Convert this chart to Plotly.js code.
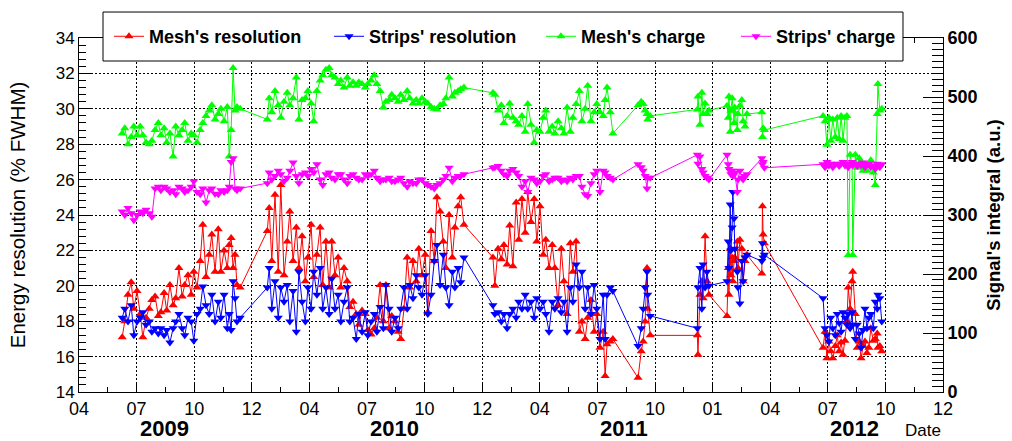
<!DOCTYPE html>
<html>
<head>
<meta charset="utf-8">
<script src="https://cdn.plot.ly/plotly-3.0.1.min.js"></script>
<style>
html,body{margin:0;padding:0;background:#ffffff;}
#chart{width:1012px;height:441px;}
</style>
</head>
<body>
<div id="chart"></div>
<script>
// ---- axis definition ----
const START_DATE = '2009-04-01';
const END_DATE = '2012-12-01';
const xTickLabels = ['04','07','10','12','04','07','10','12','04','07','10','01','04','07','10','12'];
const yearLabels = ['2009','2010','2011','2012'];

// ---- data: days since START_DATE ----
const dayOffset = [
  67,71,76,81,85,90,95,99,104,109,113,118,123,127,132,136,141,146,150,155,160,164,169,174,178,183,188,192,197,202,206,211,216,220,225,230,233,236,239,242,245,250,
  292,295,299,304,309,313,318,323,327,332,337,341,346,351,355,360,364,369,374,378,383,388,392,397,402,406,411,416,420,425,430,434,439,444,448,453,458,462,467,472,476,481,485,490,495,499,504,509,513,518,523,527,532,537,541,546,551,555,560,565,569,574,579,583,588,592,597,
  642,645,650,655,659,664,668,673,678,682,687,692,696,701,706,710,715,720,724,729,734,738,743,748,752,757,762,766,771,776,780,785,789,794,799,803,808,813,816,819,824,828,
  867,872,875,878,881,882,886,
  959,960,963,966,968,971,974,977,
  1005,1007,1008,1010,1011,1013,1014,1016,1017,1021,1022,1025,1028,1030,1033,1036,
  1059,1060,1061,1063,
  1154,1157,1160,1163,1166,1169,1173,1176,1179,1182,1185,1188,1191,1193,1196,1199,1200,1204,1207,1210,1213,1216,1219,1222,1225,1228,1232,1235,1238,1239,1242,1245
];

// Energy resolution (% FWHM), left axis
const meshResolution = [
  17.1,18.0,19.5,20.2,18.7,19.7,18.4,17.1,18.2,18.7,19.2,19.4,18.3,18.5,19.6,18.6,20.05,18.9,19.3,21.0,19.4,20.05,20.6,19.5,20.8,19.9,21.4,23.45,20.5,21.75,22.9,20.8,23.2,20.8,22.0,21.0,22.3,22.7,21.0,21.75,20.05,19.9,
  23.1,24.4,21.4,25.15,20.8,25.7,20.6,22.5,24.2,21.4,23.3,21.0,22.8,20.25,21.6,23.45,20.5,21.75,23.3,20.05,22.5,19.9,22.5,20.6,21.6,19.9,21.0,20.25,18.8,19.1,18.4,17.8,18.6,18.4,17.5,17.25,17.6,18.2,20.05,18.0,20.05,17.6,18.3,18.0,17.4,17.0,18.7,21.6,19.9,21.4,20.25,22.1,20.6,21.75,18.5,23.1,21.4,25.0,24.2,22.5,21.0,24.0,21.6,23.3,24.5,25.0,23.45,
  21.6,20.0,22.1,21.5,22.3,21.2,23.4,21.1,24.7,22.6,24.9,23.0,25.3,23.6,24.9,22.5,24.5,21.75,22.6,21.0,22.3,21.0,18.9,22.1,20.25,18.4,22.4,20.8,22.5,17.4,17.98,17.0,18.2,19.2,17.4,18.4,16.5,17.4,14.9,16.7,16.85,17.0,
  14.8,16.3,16.85,17.98,21.0,18.7,17.2,
  17.2,16.1,19.5,20.25,19.3,22.8,20.25,19.5,
  18.3,21.0,19.5,22.1,20.6,21.6,20.25,21.4,21.6,22.5,21.0,22.6,22.1,20.25,21.4,21.75,
  20.7,24.5,22.9,22.4,
  16.5,17.4,15.9,16.85,16.3,15.9,16.6,17.2,16.3,16.8,16.1,16.9,17.98,19.9,18.7,20.25,20.8,18.4,16.5,16.85,15.9,16.6,16.85,16.2,16.5,17.6,16.9,17.0,17.3,16.5,16.6,16.3
];
const stripsResolution = [
  18.2,18.7,17.98,18.9,17.2,17.98,18.2,18.5,17.8,17.98,17.4,17.6,17.3,17.6,17.2,17.5,16.8,17.6,17.98,18.4,17.6,17.2,18.2,17.98,16.9,18.4,18.7,19.96,18.9,18.4,19.5,17.98,19.1,18.2,19.5,17.6,18.4,17.5,20.25,19.3,17.98,18.2,
  19.9,21.0,18.7,20.25,18.2,19.9,19.1,20.05,17.98,19.7,17.4,20.8,19.1,17.98,19.9,18.7,20.8,19.5,21.0,18.7,19.9,18.4,20.4,18.7,19.5,17.98,19.1,19.9,17.98,18.2,17.0,18.4,17.4,18.5,17.2,17.98,18.4,17.4,18.8,17.6,20.05,18.7,17.4,18.2,17.6,18.7,19.9,18.7,20.05,19.3,20.6,19.9,19.5,20.6,18.4,19.5,21.4,22.3,20.05,21.75,19.9,18.9,20.8,19.9,21.0,20.2,21.6,
  18.9,18.4,18.5,17.98,18.4,17.6,18.4,18.7,18.2,19.1,18.7,19.5,18.7,19.1,18.2,19.3,18.7,19.1,18.4,17.4,19.1,18.7,19.3,18.5,19.1,17.4,19.9,19.1,21.2,19.9,20.8,18.7,19.9,18.4,20.05,18.7,17.0,19.5,17.0,19.5,19.9,19.7,
  16.6,17.6,18.7,19.9,20.8,19.5,18.3,
  17.6,19.9,21.0,18.7,21.2,19.9,20.8,20.0,
  20.25,22.5,21.0,24.6,22.0,23.3,25.3,23.8,22.1,20.8,19.9,19.0,21.4,20.25,21.6,21.75,
  21.4,22.4,21.6,21.75,
  19.3,17.6,17.2,16.85,18.2,17.6,17.2,18.4,17.9,17.4,18.5,18.2,17.8,18.4,17.6,18.5,17.8,17.0,17.8,17.3,16.5,17.5,18.7,17.6,18.2,18.4,17.6,19.1,18.7,19.5,19.3,17.98
];
// Signal's integral (a.u.), right axis
const meshCharge = [
  438,447,420,432,450,435,450,435,423,420,426,444,456,435,447,423,438,399,450,435,444,456,426,438,435,423,444,456,468,477,486,462,471,480,459,483,399,444,549,477,483,480,
  462,498,474,510,486,465,492,507,486,498,533,462,495,498,510,489,459,510,528,537,546,549,537,533,522,528,516,533,519,525,519,525,522,516,522,528,537,522,510,482,492,495,504,498,492,504,495,510,498,489,495,489,498,492,489,483,480,479,486,488,498,533,501,507,510,513,516,
  507,504,477,486,456,468,489,465,459,453,468,441,488,453,423,444,441,465,477,441,450,438,459,447,438,482,441,465,488,510,459,480,519,459,474,488,474,468,495,516,474,438,
  486,492,488,477,471,462,468,
  479,501,453,507,471,489,471,477,
  485,465,501,441,477,498,477,456,482,444,471,485,495,459,450,471,
  474,432,447,444,
  468,459,419,465,426,462,432,465,429,468,426,465,468,232,402,386,232,402,380,396,390,375,386,375,386,393,372,351,471,522,477,480
];
const stripsCharge = [
  306,300,312,303,291,300,306,303,309,303,297,345,348,342,348,345,339,342,335,348,345,339,342,348,357,339,335,345,321,342,345,336,335,342,339,342,348,390,396,345,342,345,
  354,372,360,366,375,369,357,363,375,389,366,354,369,372,366,378,372,386,360,351,369,372,363,360,369,369,360,354,366,369,363,360,360,369,366,369,375,363,357,360,360,363,357,357,360,363,354,348,357,354,354,360,360,354,351,348,345,351,354,360,366,380,357,363,366,366,369,
  380,381,383,375,369,366,375,378,372,366,348,357,339,363,360,354,357,366,369,357,360,363,363,357,360,357,363,360,366,366,348,335,332,354,369,375,339,375,372,366,363,360,
  386,381,375,366,345,363,363,
  402,387,399,378,372,366,363,360,
  402,386,378,375,369,375,366,369,372,339,360,375,363,360,366,369,
  396,386,390,380,
  386,381,390,384,387,381,386,387,383,387,390,384,387,381,386,390,384,387,383,387,384,389,381,386,387,381,384,378,387,383,381,386
];

// ---- helpers ----
const DAY = 86400000;
const t0 = Date.parse(START_DATE + 'T00:00:00Z');
const t1 = Date.parse(END_DATE + 'T00:00:00Z');
function fmt(t){ return new Date(t).toISOString().slice(0,19).replace('T',' '); }
const dates = dayOffset.map(d => fmt(t0 + d*DAY));

const nT = xTickLabels.length - 1;
const step = (t1 - t0) / nT;
const tickVals = xTickLabels.map((_, k) => fmt(t0 + k*step));
const minorVals = [];
for (let k = 0; k < nT; k++) minorVals.push(fmt(t0 + (k + 0.5)*step));

const FONT = '"Liberation Sans", Arial, Helvetica, sans-serif';

function series(name, y, color, symbol, yaxis, legend){
  return {
    type:'scatter', mode:'lines+markers', name:name, x:dates, y:y,
    yaxis:yaxis, legend:legend,
    line:{color:color, width:1},
    marker:{color:color, symbol:symbol, size:8, line:{width:0}},
    cliponaxis:true
  };
}

const traces = [
  series("Mesh's resolution", meshResolution, '#ff0000', 'triangle-up', 'y', 'legend'),
  series("Strips' resolution", stripsResolution, '#0000ff', 'triangle-down', 'y', 'legend2'),
  series("Mesh's charge", meshCharge, '#00ff00', 'triangle-up', 'y2', 'legend3'),
  series("Strips' charge", stripsCharge, '#ff00ff', 'triangle-down', 'y2', 'legend4')
];

const legendFont = {family:FONT, size:18, weight:'bold', color:'#000'};
function leg(x){
  return {x:x, y:1.004, xanchor:'left', yanchor:'middle', orientation:'h',
          bgcolor:'rgba(0,0,0,0)', borderwidth:0, font:legendFont};
}

const yearX = [0.0984, 0.3646, 0.6308, 0.8981];
const annotations = yearLabels.map((t, i) => ({
  text:t, xref:'paper', yref:'paper', x:yearX[i], y:-0.104, xanchor:'center', yanchor:'middle',
  showarrow:false, font:{family:FONT, size:22, weight:'bold', color:'#000'}
}));
annotations.push({text:'Date', xref:'paper', yref:'paper', x:1.0, y:-0.11, xanchor:'right', yanchor:'middle',
  showarrow:false, font:{family:FONT, size:17, color:'#000'}});

const layout = {
  width:1012, height:441,
  margin:{l:79, r:69, t:38, b:49, pad:0},
  paper_bgcolor:'#ffffff', plot_bgcolor:'#ffffff',
  font:{family:FONT, color:'#000'},
  showlegend:true,
  xaxis:{
    type:'date', range:[fmt(t0), fmt(t1)],
    tickmode:'array', tickvals:tickVals, ticktext:xTickLabels,
    ticks:'inside', ticklen:9, tickwidth:1, tickcolor:'#000',
    showline:true, linecolor:'#000', linewidth:1, mirror:'ticks',
    showgrid:true, gridcolor:'#000', gridwidth:1, griddash:'2px,2px',
    zeroline:false, tickfont:{family:FONT, size:18, color:'#000'},
    minor:{tickmode:'array', tickvals:minorVals, ticks:'inside', ticklen:5, tickcolor:'#000', showgrid:false}
  },
  yaxis:{
    range:[14,34], tick0:14, dtick:2,
    ticks:'inside', ticklen:12, tickwidth:1, tickcolor:'#000',
    showline:true, linecolor:'#000', linewidth:1,
    showgrid:true, gridcolor:'#000', gridwidth:1, griddash:'2px,2px',
    zeroline:false, tickfont:{family:FONT, size:17, color:'#000'},
    minor:{dtick:0.4, ticks:'inside', ticklen:7, tickcolor:'#000', showgrid:false},
    title:{text:'Energy resolution (% FWHM)', font:{family:FONT, size:20.5, color:'#000'}, standoff:24}
  },
  yaxis2:{
    overlaying:'y', side:'right', anchor:'x',
    range:[0,600], tick0:0, dtick:100,
    ticks:'inside', ticklen:20, tickwidth:1, tickcolor:'#000',
    showline:true, linecolor:'#000', linewidth:1,
    showgrid:false, zeroline:false,
    tickfont:{family:FONT, size:18, weight:'bold', color:'#000'},
    minor:{dtick:10, ticks:'inside', ticklen:11, tickcolor:'#000', showgrid:false},
    title:{text:"Signal's integral (a.u.)", font:{family:FONT, size:18.5, weight:'bold', color:'#000'}, standoff:10}
  },
  legend:leg(0.0347),
  legend2:leg(0.2894),
  legend3:leg(0.5347),
  legend4:leg(0.7604),
  shapes:[{
    type:'rect', xref:'paper', yref:'paper', x0:0.02778, x1:0.9537, y0:0.935, y1:1.0734,
    fillcolor:'#ffffff', line:{color:'#000', width:1}, layer:'above'
  }],
  annotations:annotations
};

Plotly.newPlot('chart', traces, layout, {staticPlot:true, displayModeBar:false});
</script>
</body>
</html>
